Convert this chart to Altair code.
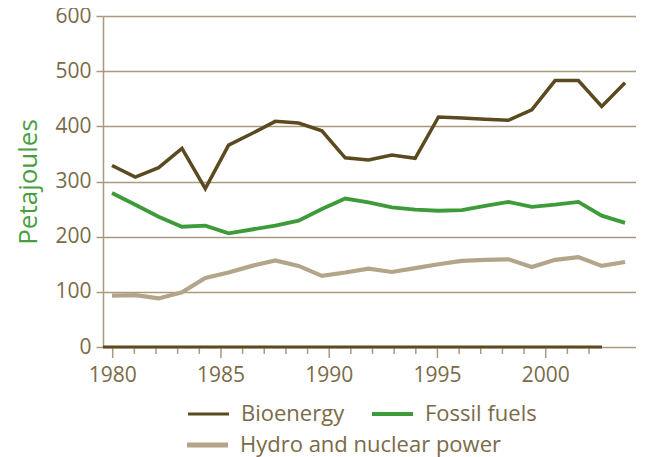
import altair as alt
import pandas as pd

# ---- data ----
YEARS = list(range(1980, 2003))
BIOENERGY = [329, 308, 325, 360, 287, 366, 387, 409, 406, 392, 343, 339, 348, 342,
             417, 415, 413, 411, 430, 483, 483, 436, 479]
FOSSIL = [279, 258, 236, 218, 220, 206, 213, 220, 229, 250, 269, 262, 253, 249,
          247, 248, 256, 263, 254, 258, 263, 238, 225]
HYDRO = [93, 94, 88, 99, 125, 135, 147, 157, 147, 129, 135, 142, 136, 143,
         150, 156, 158, 159, 145, 158, 163, 147, 154]
SERIES = ["Bioenergy", "Fossil fuels", "Hydro and nuclear power"]
COLORS = ["#5b4a1f", "#3e9b3a", "#b3a58a"]
WIDTHS = [3.5, 4.2, 4.5]
Y_TICKS = [0, 100, 200, 300, 400, 500, 600]
X_LABELS = [1980, 1985, 1990, 1995, 2000]

TXT = "#7a6a48"
TAN = "#a89a7e"
DARK = "#5b4a1f"
GREEN = "#4a9e3f"
FONT = "Open Sans"

rows = []
for s, vals in zip(SERIES, [BIOENERGY, FOSSIL, HYDRO]):
    for yr, v in zip(YEARS, vals):
        rows.append({"year": yr, "value": v, "series": s})
df = pd.DataFrame(rows)
ticks_df = pd.DataFrame({"year": YEARS, "major": [y in X_LABELS for y in YEARS]})

W, H = 533, 331
LINE_DOMAIN = [1979.614, 2002.47]
# the printed year axis is spaced slightly tighter than the plotted lines
AXIS_D0, AXIS_D1 = 1979.552, 2004.17
K = (LINE_DOMAIN[1] - LINE_DOMAIN[0]) / (AXIS_D1 - AXIS_D0)
POS_EXPR = f"{LINE_DOMAIN[0]} + (datum.year - {AXIS_D0}) * {K}"

xscale = alt.Scale(domain=LINE_DOMAIN, nice=False, zero=False)
yscale = alt.Scale(domain=[0, 600], nice=False, zero=True)

lines = alt.Chart(df).mark_line(strokeCap="butt", strokeJoin="miter").encode(
    x=alt.X("year:Q", scale=xscale, axis=None),
    y=alt.Y("value:Q", scale=yscale,
            axis=alt.Axis(values=Y_TICKS, title="Petajoules", grid=True,
                          gridColor=TAN, gridWidth=1.5, domainColor=TAN, domainWidth=1.5,
                          tickColor=TAN, tickSize=7, tickWidth=1.5,
                          labelFont=FONT, labelFontSize=21, labelColor=TXT, labelPadding=5,
                          titleFont=FONT, titleFontSize=26, titleColor=GREEN,
                          titleFontWeight="normal", titleX=-75, titleY=H / 2,
                          titleAlign="center", titleBaseline="middle")),
    color=alt.Color("series:N", scale=alt.Scale(domain=SERIES, range=COLORS), legend=None),
    strokeWidth=alt.StrokeWidth("series:N", scale=alt.Scale(domain=SERIES, range=WIDTHS), legend=None),
    detail="series:N",
)

ticks_base = alt.Chart(ticks_df).transform_calculate(xpos=POS_EXPR)

minor_marks = ticks_base.transform_filter("!datum.major").mark_rule(
    strokeWidth=1.5, color=TAN
).encode(
    x=alt.X("xpos:Q", scale=xscale, axis=None),
    y=alt.Y(datum=-2, type="quantitative", scale=yscale),
    y2=alt.Y2(datum=-12.5),
)
major_marks = ticks_base.transform_filter("datum.major").mark_rule(
    strokeWidth=1.5, color=TAN
).encode(
    x=alt.X("xpos:Q", scale=xscale, axis=None),
    y=alt.Y(datum=-2, type="quantitative", scale=yscale),
    y2=alt.Y2(datum=-20),
)
x_labels = ticks_base.transform_filter("datum.major").mark_text(
    font=FONT, fontSize=21, color=TXT, align="center", baseline="alphabetic"
).encode(
    x=alt.X("xpos:Q", scale=xscale, axis=None),
    y=alt.value(H + 35),
    text=alt.Text("year:Q", format="d"),
)

baseline = alt.Chart(ticks_df.head(1)).mark_rule(color=DARK, strokeWidth=3).encode(
    x=alt.value(0), x2=alt.value(499), y=alt.value(H)
)

one = pd.DataFrame({"k": [0]})


def legend_item(name, color, width, x0, y_line, y_text):
    sw = alt.Chart(one).mark_rule(color=color, strokeWidth=width).encode(
        x=alt.value(x0), x2=alt.value(x0 + 41), y=alt.value(y_line))
    tx = alt.Chart(one).mark_text(align="left", baseline="alphabetic", font=FONT,
                                  fontSize=22, color=TXT).encode(
        x=alt.value(x0 + 53), y=alt.value(y_text), text=alt.value(name))
    return [sw, tx]


leg = []
leg += legend_item(SERIES[0], COLORS[0], 2.8, 85, 398, 405)
leg += legend_item(SERIES[1], COLORS[1], 4, 269, 398, 405)
leg += legend_item(SERIES[2], COLORS[2], 5, 84, 429, 436)

chart = alt.layer(lines, minor_marks, major_marks, baseline, x_labels, *leg).properties(
    width=W, height=H,
    autosize=alt.AutoSizeParams(type="none"),
    padding={"left": 95, "top": 8, "right": 0, "bottom": 110},
).configure_view(stroke=None).configure(font=FONT)

chart.save("out.html", embed_options={"renderer": "svg", "actions": False})
